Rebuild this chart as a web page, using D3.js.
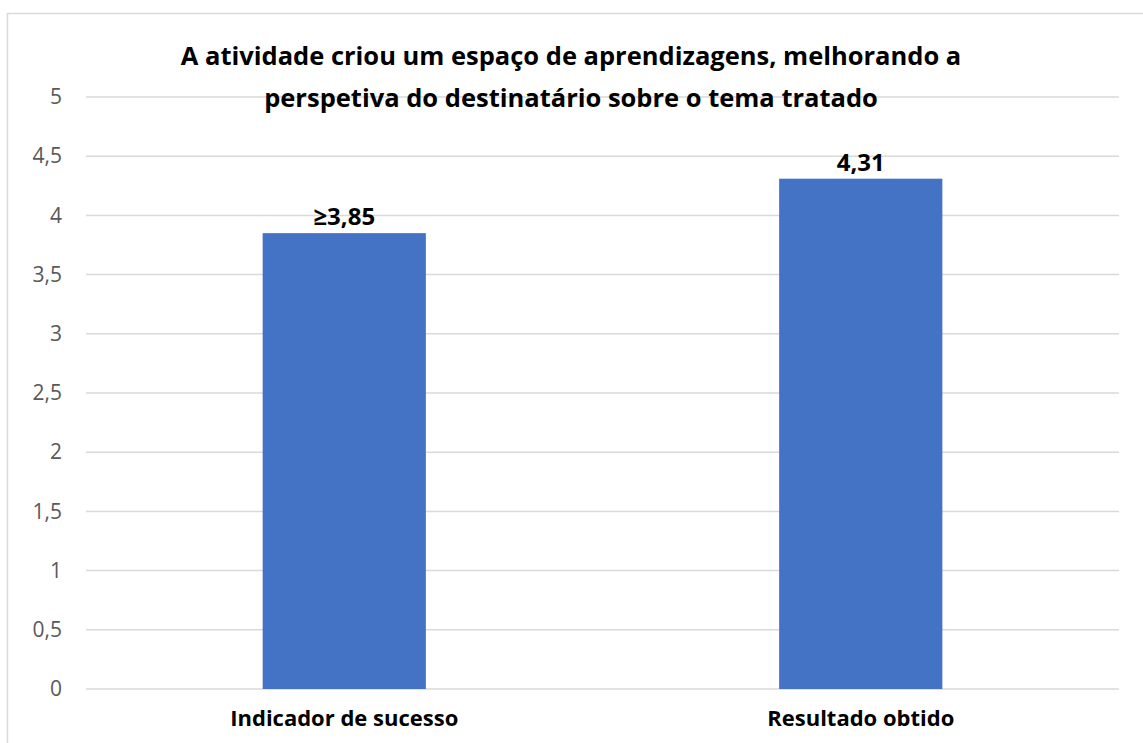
<!DOCTYPE html>
<html>
<head>
<meta charset="utf-8">
<script src="https://cdn.jsdelivr.net/npm/d3@7"></script>
<style>
  body { margin: 0; background: #fff; }
  text { font-family: "Open Sans", Calibri, sans-serif; }
</style>
</head>
<body>
<svg id="chart" width="1143" height="743"></svg>
<script>
var categories = ["Indicador de sucesso", "Resultado obtido"],
    values = [3.85, 4.31],
    valueLabels = ["≥3,85", "4,31"],
    yTicks = [0, 0.5, 1, 1.5, 2, 2.5, 3, 3.5, 4, 4.5, 5],
    titleLines = ["A atividade criou um espaço de aprendizagens, melhorando a",
                  "perspetiva do destinatário sobre o tema tratado"];

var svg = d3.select("#chart"),
    plotLeft = 86, plotRight = 1119, plotTop = 97, plotBottom = 689;

// chart frame
svg.append("rect")
    .attr("x", 7.5).attr("y", 13.5)
    .attr("width", 1160).attr("height", 760)
    .attr("fill", "none").attr("stroke", "#d9d9d9").attr("stroke-width", 1.5);

var x = d3.scaleBand().domain(categories).range([plotLeft, plotRight]).padding(0);
var y = d3.scaleLinear().domain([0, 5]).range([plotBottom, plotTop]);

var fmt = function(d) { return String(d).replace(".", ","); };

// gridlines
svg.append("g").selectAll("line")
  .data(yTicks)
  .enter().append("line")
    .attr("x1", plotLeft).attr("x2", plotRight)
    .attr("y1", function(d) { return y(d); })
    .attr("y2", function(d) { return y(d); })
    .attr("stroke", "#d9d9d9").attr("stroke-width", 1.5);

var yAxis = svg.append("g")
    .attr("transform", "translate(" + plotLeft + ",0)")
    .call(d3.axisLeft(y).tickValues(yTicks).tickFormat(fmt).tickSize(0).tickPadding(24));
yAxis.select(".domain").remove();
yAxis.selectAll("text")
    .attr("fill", "#595959").style("font-size", "21px")
    .style("font-family", "'Open Sans', Calibri, sans-serif");

var barW = x.bandwidth() * 0.316;

svg.append("g").selectAll("rect")
  .data(values)
  .enter().append("rect")
    .attr("x", function(d, i) { return x(categories[i]) + x.bandwidth() / 2 - barW / 2; })
    .attr("y", function(d) { return y(d); })
    .attr("width", barW)
    .attr("height", function(d) { return y(0) - y(d); })
    .attr("fill", "#4472c4");

svg.append("g").selectAll("text")
  .data(values)
  .enter().append("text")
    .attr("x", function(d, i) { return x(categories[i]) + x.bandwidth() / 2; })
    .attr("y", function(d) { return y(d) - 8; })
    .attr("text-anchor", "middle")
    .style("font-size", "24px").style("font-weight", "bold")
    .attr("fill", "#000")
    .text(function(d, i) { return valueLabels[i]; });

var xAxis = svg.append("g")
    .attr("transform", "translate(0," + plotBottom + ")")
    .call(d3.axisBottom(x).tickSize(0).tickPadding(21));
xAxis.select(".domain").remove();
xAxis.selectAll("text")
    .attr("fill", "#000").style("font-size", "22px").style("font-weight", "bold")
    .style("font-family", "'Open Sans', Calibri, sans-serif");

svg.append("g").selectAll("text")
  .data(titleLines)
  .enter().append("text")
    .attr("x", 571)
    .attr("y", function(d, i) { return 65 + i * 42; })
    .attr("text-anchor", "middle")
    .style("font-size", "25.5px").style("font-weight", "bold")
    .attr("fill", "#000")
    .text(function(d) { return d; });
</script>
</body>
</html>
